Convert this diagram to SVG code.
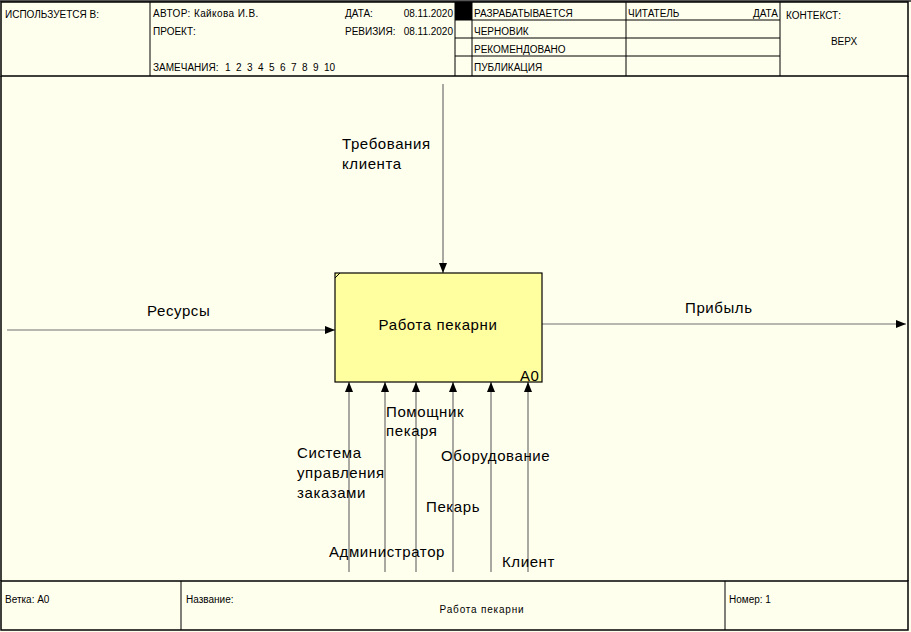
<svg xmlns="http://www.w3.org/2000/svg" width="911" height="632" viewBox="0 0 911 632">
<defs>
<style>
.frame{fill:none;stroke:#000;stroke-width:1.5}
.ln{stroke:#000;stroke-width:1}
.sm{font-family:"Liberation Sans",Arial,sans-serif;font-size:10px;fill:#000}
.lb{font-family:"Liberation Sans",Arial,sans-serif;font-size:15px;fill:#000;letter-spacing:0.6px}
.arr{stroke:#707070;stroke-width:1.2;fill:none;marker-end:url(#ah)}
</style>
<marker id="ah" viewBox="0 0 10 8" refX="10" refY="4" markerWidth="10" markerHeight="8" markerUnits="userSpaceOnUse" orient="auto">
<path d="M0,0 L10,4 L0,8 Z" fill="#000"/>
</marker>
</defs>
<rect x="0" y="0" width="911" height="632" fill="#FFFFEE"/>
<rect x="0" y="0" width="911" height="2" fill="#555"/>
<g id="header">
<rect class="frame" x="1" y="2" width="907" height="74"/>
<line class="ln" x1="150" y1="2" x2="150" y2="76"/>
<line class="ln" x1="455" y1="2" x2="455" y2="76"/>
<line class="ln" x1="472" y1="2" x2="472" y2="76"/>
<line class="ln" x1="626" y1="2" x2="626" y2="76"/>
<line class="ln" x1="780" y1="2" x2="780" y2="76"/>
<line class="ln" x1="455" y1="20" x2="780" y2="20"/>
<line class="ln" x1="455" y1="38" x2="780" y2="38"/>
<line class="ln" x1="455" y1="56" x2="780" y2="56"/>
<rect x="455" y="2" width="17" height="18" fill="#000"/>
<text class="sm" x="5" y="18">ИСПОЛЬЗУЕТСЯ В:</text>
<text class="sm" x="153" y="17" letter-spacing="0.4">АВТОР: Кайкова И.В.</text>
<text class="sm" x="345" y="17">ДАТА:</text>
<text class="sm" x="453" y="17" text-anchor="end">08.11.2020</text>
<text class="sm" x="153" y="35">ПРОЕКТ:</text>
<text class="sm" x="345" y="35">РЕВИЗИЯ:</text>
<text class="sm" x="453" y="35" text-anchor="end">08.11.2020</text>
<text class="sm" x="153" y="71">ЗАМЕЧАНИЯ:</text>
<text class="sm" y="71"><tspan x="225">1</tspan><tspan x="236">2</tspan><tspan x="247">3</tspan><tspan x="258">4</tspan><tspan x="269">5</tspan><tspan x="280">6</tspan><tspan x="291">7</tspan><tspan x="302">8</tspan><tspan x="313">9</tspan><tspan x="324">10</tspan></text>
<text class="sm" x="474" y="17">РАЗРАБАТЫВАЕТСЯ</text>
<text class="sm" x="474" y="35">ЧЕРНОВИК</text>
<text class="sm" x="474" y="53">РЕКОМЕНДОВАНО</text>
<text class="sm" x="474" y="71">ПУБЛИКАЦИЯ</text>
<text class="sm" x="628" y="17">ЧИТАТЕЛЬ</text>
<text class="sm" x="778" y="17" text-anchor="end">ДАТА</text>
<text class="sm" x="786" y="19">КОНТЕКСТ:</text>
<text class="sm" x="844" y="45" text-anchor="middle">ВЕРХ</text>
</g>
<g id="body-frame">
<line class="frame" x1="1" y1="76" x2="1" y2="581"/>
<line class="frame" x1="908" y1="76" x2="908" y2="581"/>
</g>
<g id="footer">
<rect class="frame" x="1" y="581" width="907" height="49"/>
<line class="ln" x1="181" y1="581" x2="181" y2="630"/>
<line class="ln" x1="725" y1="581" x2="725" y2="630"/>
<text class="sm" x="5" y="603">Ветка: A0</text>
<text class="sm" x="186" y="603">Название:</text>
<text class="sm" x="482" y="613" text-anchor="middle" letter-spacing="0.8">Работа пекарни</text>
<text class="sm" x="729" y="603">Номер: 1</text>
</g>
<g id="connectors">
<line class="arr" x1="443" y1="84" x2="443" y2="273"/>
<line class="arr" x1="7" y1="330" x2="335" y2="330"/>
<line class="arr" x1="542" y1="324" x2="906" y2="324"/>
<line class="arr" x1="349" y1="572" x2="349" y2="382"/>
<line class="arr" x1="385" y1="572" x2="385" y2="382"/>
<line class="arr" x1="416" y1="572" x2="416" y2="382"/>
<line class="arr" x1="453" y1="572" x2="453" y2="382"/>
<line class="arr" x1="491" y1="572" x2="491" y2="382"/>
<line class="arr" x1="528" y1="572" x2="528" y2="382"/>
</g>
<g id="labels">
<text class="lb" x="342" y="149">Требования</text>
<text class="lb" x="342" y="169">клиента</text>
<text class="lb" x="147" y="316">Ресурсы</text>
<text class="lb" x="685" y="313">Прибыль</text>
<text class="lb" x="386" y="417">Помощник</text>
<text class="lb" x="386" y="436">пекаря</text>
<text class="lb" x="297" y="458">Система</text>
<text class="lb" x="297" y="478">управления</text>
<text class="lb" x="297" y="498">заказами</text>
<text class="lb" x="441" y="461">Оборудование</text>
<text class="lb" x="426" y="512">Пекарь</text>
<text class="lb" x="329" y="557">Администратор</text>
<text class="lb" x="502" y="567">Клиент</text>
</g>
<g id="node-A0">
<rect x="335" y="273" width="207" height="109" fill="#FFFF9F" stroke="#000" stroke-width="1.2"/>
<line class="ln" x1="335" y1="278" x2="340" y2="273"/>
<text class="lb" x="438" y="330" text-anchor="middle">Работа пекарни</text>
<text class="lb" x="520" y="381">A0</text>
</g>
</svg>
